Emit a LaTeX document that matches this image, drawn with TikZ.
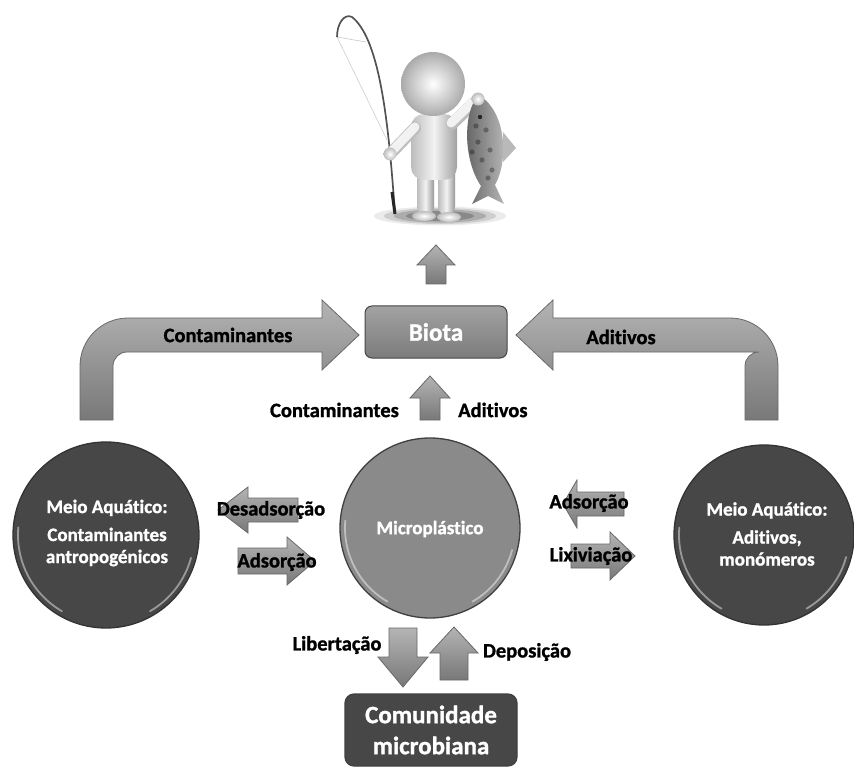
\documentclass[tikz,border=0pt]{standalone}
\usepackage{fontspec}
\setmainfont{Carlito}[Ligatures=NoCommon,BoldFeatures={FakeBold=1.2}]
\usetikzlibrary{shapes.geometric}
\definecolor{arrowlight}{HTML}{B4B4B4}
\definecolor{arrowdark}{HTML}{787878}
\definecolor{arrowedge}{HTML}{686868}
\definecolor{darkdisc}{HTML}{474747}
\definecolor{middisc}{HTML}{8A8A8A}
\definecolor{skin}{HTML}{F2F2F2}
\definecolor{skinshade}{HTML}{BDBDBD}
\definecolor{boxtop}{HTML}{A2A2A2}
\definecolor{boxbottom}{HTML}{7C7C7C}

% block arrows: right, left, up, down
% #1,#2 ends along the axis, #3 centre line, #4 half shaft, #5 half head, #6 head length
\newcommand\rblock[6]{\path[blockarrow] (#1,#3-#4) -- (#2-#6,#3-#4) -- (#2-#6,#3-#5) -- (#2,#3) -- (#2-#6,#3+#5) -- (#2-#6,#3+#4) -- (#1,#3+#4) -- cycle;}
\newcommand\lblock[6]{\path[blockarrow] (#1,#3) -- (#1+#6,#3-#5) -- (#1+#6,#3-#4) -- (#2,#3-#4) -- (#2,#3+#4) -- (#1+#6,#3+#4) -- (#1+#6,#3+#5) -- cycle;}
\newcommand\ublock[6]{\path[blockarrow] (#3,#1) -- (#3+#5,#1+#6) -- (#3+#4,#1+#6) -- (#3+#4,#2) -- (#3-#4,#2) -- (#3-#4,#1+#6) -- (#3-#5,#1+#6) -- cycle;}
\newcommand\dblock[6]{\path[blockarrow] (#3,#2) -- (#3+#5,#2-#6) -- (#3+#4,#2-#6) -- (#3+#4,#1) -- (#3-#4,#1) -- (#3-#4,#2-#6) -- (#3-#5,#2-#6) -- cycle;}

\begin{document}
\begin{tikzpicture}[x=1pt,y=-1pt,
  blockarrow/.style={top color=arrowlight,bottom color=arrowdark,draw=arrowedge,line width=0.8pt},
  lbl/.style={font=\fontsize{20.5}{23}\selectfont\bfseries,text=black,inner sep=0pt},
  disc/.style={circle,draw=black!80,line width=1.3pt,inner sep=0pt},
  disctext/.style={font=\fontsize{19}{22}\selectfont\bfseries,text=white,align=center},
  boxtext/.style={font=\fontsize{25}{31}\selectfont\bfseries,text=white,align=center},
  gloss/.style={white,opacity=0.45,line width=1.8pt,line cap=round},
  limb/.style={line cap=round}]
\useasboundingbox (0,0) rectangle (854,767);
\fill[white] (0,0) rectangle (854,767);

% ---------- fisherman ----------
\foreach \r/\o in {66/0.08,56/0.12,46/0.16,34/0.2}
  \fill[black,opacity=\o] (440,216) ellipse [x radius=\r, y radius=\r/7];
% fishing rod and line
\draw[gray!45,line width=0.5pt] (337,37) -- (387,140);
\draw[gray!50,line width=0.5pt] (337,37) -- (366,42);
\draw[gray!65!black,line width=1.7pt] (395,214) .. controls (389,130) and (381,40) .. (352,17) .. controls (344,13) and (337,24) .. (337,37);
\draw[gray!30!black,line width=3pt] (392,192) -- (395,214);
% legs and feet
\shade[left color=skinshade,right color=skinshade!80!black,middle color=skin,rounded corners=7] (417,166) rectangle (434,214);
\shade[left color=skinshade,right color=skinshade!80!black,middle color=skin,rounded corners=7] (438,166) rectangle (455,214);
\shade[inner color=white,outer color=skinshade] (424,216) ellipse [x radius=12, y radius=5];
\shade[inner color=white,outer color=skinshade] (449,217) ellipse [x radius=12, y radius=5];
% torso
\shade[left color=skinshade,right color=skinshade!85!black,middle color=skin,rounded corners=13] (411,114) rectangle (457,180);
% arms
\draw[limb,skinshade,line width=12pt] (415,128) -- (392,152);
\draw[limb,skin,line width=9pt] (415,127) -- (393,150);
\draw[limb,skinshade,line width=12pt] (452,124) -- (476,101);
\draw[limb,skin,line width=9pt] (451,123) -- (475,100);
\shade[inner color=white,outer color=skinshade] (390,154) circle (6.5);
% head
\shade[inner color=white,outer color=skinshade!90!black] (433,84) circle (32);
% fish held up by the hand
\shade[left color=gray!75!black,right color=gray!50] (478,96) .. controls (463,112) and (463,160) .. (481,186) -- (472,204) -- (488,196) -- (504,204) -- (495,185) .. controls (509,160) and (506,112) .. (480,96) -- cycle;
\fill[gray!55] (503,132) -- (516,148) -- (503,162) -- cycle;
\fill[gray!30!black] (480,117) circle (2.2);
\foreach \p in {(486,130),(478,142),(490,150),(482,160),(492,170),(476,126),(472,152),(488,178)}
  \fill[black,opacity=0.3] \p circle (2.6);
\shade[inner color=white,outer color=skinshade] (478,99) circle (6.5);

% ---------- arrow towards the fisherman ----------
\ublock{245}{284}{436}{10}{19}{20}

% ---------- biota box ----------
\node[rounded corners=7,minimum width=142,minimum height=52,top color=boxtop,bottom color=boxbottom,draw=gray!55!black,line width=1pt,boxtext] (biota) at (436,332) {Biota};

% ---------- bent arrows into the biota box ----------
\path[blockarrow] (80,420) -- (80,366) arc[start angle=180,end angle=270,radius=48] -- (322,318) -- (322,300) -- (359,335) -- (322,370) -- (322,352) -- (127,352) arc[start angle=270,end angle=180,radius=14] -- (113,420) -- cycle;
\path[blockarrow] (778,420) -- (778,366) arc[start angle=0,end angle=-90,radius=48] -- (553,318) -- (553,300) -- (516,335) -- (553,370) -- (553,352) -- (759,352) arc[start angle=-90,end angle=-180,radius=14] -- (745,420) -- cycle;
\node[lbl] (topcont) at (228,335) {Contaminantes};
\node[lbl] (topadit) at (621,337) {Aditivos};

% ---------- microplastic to biota ----------
\ublock{376}{420}{430}{10}{20}{22}
\node[lbl,anchor=east] (midcont) at (399,410) {Contaminantes};
\node[lbl,anchor=west] (midadit) at (458,410) {Aditivos};

% ---------- discs ----------
\node[disc,fill=darkdisc,minimum size=186] (aqleft) at (106,535) {};
\draw[gloss] (aqleft.center) ++(120:88) arc[start angle=120,end angle=185,radius=88];
\draw[gloss] (aqleft.center) ++(15:88) arc[start angle=15,end angle=60,radius=88];
\node[disctext] (aqlefttext) at (107,533) {Meio Aquático:\\[6pt]Contaminantes\\antropogénicos};

\node[disc,fill=middisc,minimum size=180,draw=gray!50!black] (micro) at (430,528) {};
\draw[gloss] (micro.center) ++(120:85) arc[start angle=120,end angle=185,radius=85];
\draw[gloss] (micro.center) ++(15:85) arc[start angle=15,end angle=60,radius=85];
\node[disctext] (microtext) at (430,529) {Microplástico};

\node[disc,fill=darkdisc,minimum size=180] (aqright) at (764,535) {};
\draw[gloss] (aqright.center) ++(120:85) arc[start angle=120,end angle=185,radius=85];
\draw[gloss] (aqright.center) ++(15:85) arc[start angle=15,end angle=60,radius=85];
\node[disctext] (aqrighttext) at (767,534) {Meio Aquático:\\[6pt]Aditivos,\\monómeros};

% ---------- exchange arrows, left ----------
\lblock{218}{298}{510}{12}{23}{30}
\rblock{238}{315}{561}{13}{24}{28}
\node[lbl] (desads) at (271,510) {Desadsorção};
\node[lbl] (adsleft) at (277,562) {Adsorção};

% ---------- exchange arrows, right ----------
\lblock{563}{624}{504}{12}{24}{14}
\rblock{571}{635}{556}{12}{24}{25}
\node[lbl] (adsright) at (589,503) {Adsorção};
\node[lbl] (lixiv) at (591,556) {Lixiviação};

% ---------- microbial community ----------
\dblock{628}{687}{403}{14}{25}{30}
\ublock{627}{680}{454}{14}{24}{26}
\node[lbl] (libert) at (337,645) {Libertação};
\node[lbl] (deposi) at (527,652) {Deposição};
\node[rounded corners=9,minimum width=172,minimum height=72,fill=darkdisc,draw=black!75,line width=1.2pt,boxtext] (community) at (431,730) {Comunidade\\microbiana};
\end{tikzpicture}
\end{document}
